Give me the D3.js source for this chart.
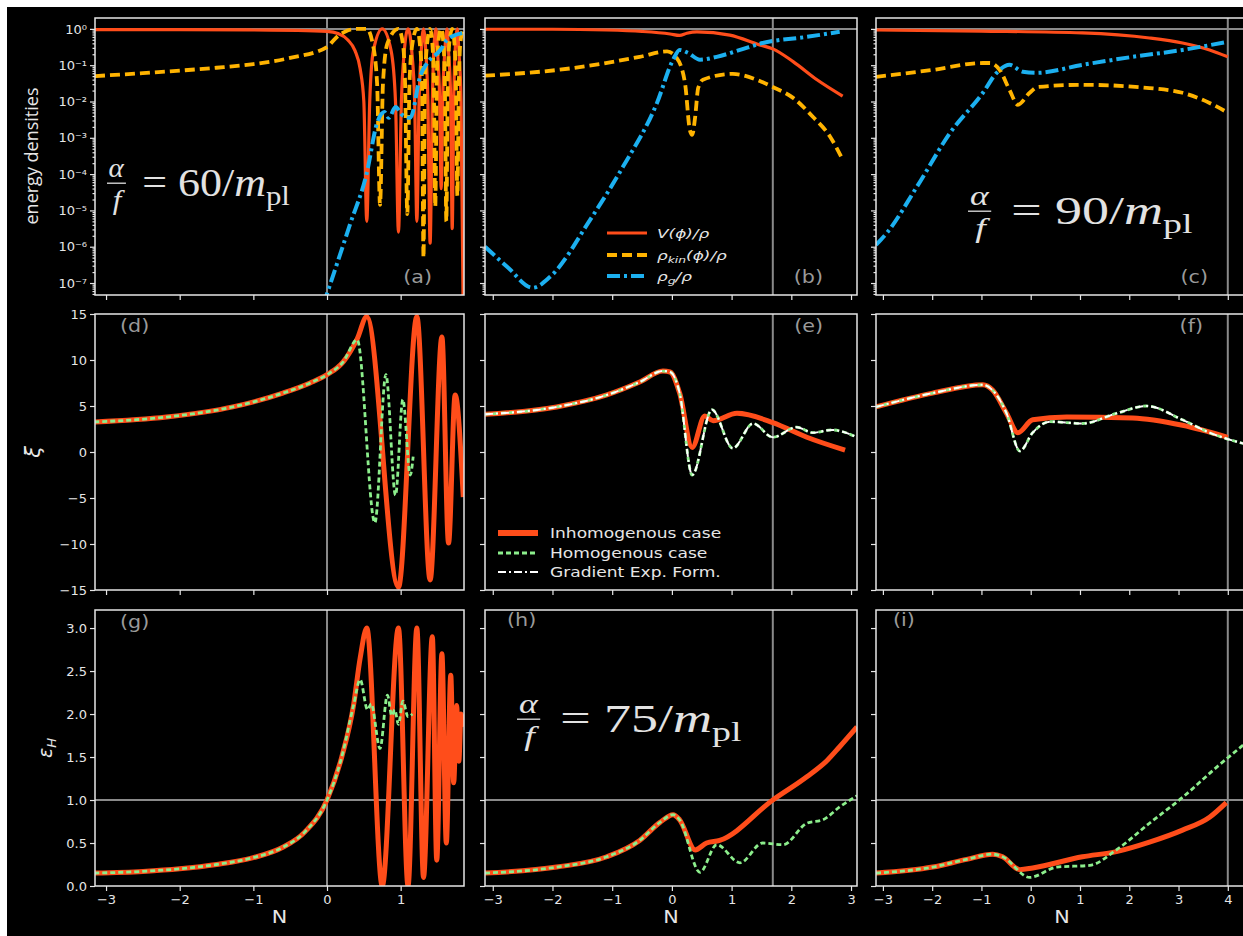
<!DOCTYPE html>
<html>
<head>
<meta charset="utf-8">
<script src="https://cdn.jsdelivr.net/npm/d3@7"></script>
<style>
  body { margin: 0; background: #fff; }
  svg { display: block; }
</style>
</head>
<body>
<svg id="fig" width="1243" height="936"></svg>
<script>
// ---- data (N, value); energy densities stored as log10 exponents ----
const N_TICKS = [-3, -2, -1, 0, 1, 2, 3, 4];
const LOG_TICKS = [0, -1, -2, -3, -4, -5, -6, -7];
const XI_TICKS = [15, 10, 5, 0, -5, -10, -15];
const EPS_TICKS = [0, 0.5, 1, 1.5, 2, 2.5, 3];
const VLINES = [0, 1.69, 4];

const a_V = [[-3.15,-0.02],[-2,-0.02],[-1,-0.03],[-0.4,-0.04],[0,-0.07],[0.15,-0.13],[0.28,-0.3],[0.38,-0.6],[0.45,-1.1],[0.5,-2.0],[0.54,-5.3],[0.58,-2.0],[0.63,-0.6],[0.75,0],[0.87,-0.6],[0.93,-2.0],[0.97,-5.6],[1.01,-2.0],[1.05,-0.6],[1.1,0],[1.15,-0.6],[1.19,-2.0],[1.22,-5.3],[1.25,-2.0],[1.28,-0.6],[1.31,0],[1.34,-0.6],[1.37,-2.0],[1.40,-5.9],[1.43,-2.0],[1.45,-0.6],[1.48,0],[1.5,-0.6],[1.53,-2.0],[1.55,-4.4],[1.57,-2.0],[1.6,-0.6],[1.63,0],[1.65,-0.6],[1.68,-2.0],[1.70,-5.5],[1.72,-2.0],[1.74,-0.6],[1.77,0],[1.79,-0.6],[1.82,-2.0],[1.85,-8]];
const a_kin = [[-3.15,-1.3],[-2.5,-1.22],[-2,-1.15],[-1.5,-1.07],[-1,-0.97],[-0.5,-0.8],[0,-0.5],[0.12,-0.25],[0.25,-0.07],[0.4,0],[0.54,0],[0.62,-0.4],[0.68,-1.5],[0.72,-4.85],[0.76,-1.5],[0.82,-0.4],[0.97,0],[1.03,-0.4],[1.06,-1.5],[1.09,-5.1],[1.12,-1.5],[1.16,-0.4],[1.22,0],[1.26,-0.4],[1.29,-1.5],[1.31,-6.3],[1.33,-1.5],[1.36,-0.4],[1.40,0],[1.43,-0.4],[1.45,-1.5],[1.47,-4.9],[1.49,-1.5],[1.51,-0.4],[1.55,0],[1.58,-0.4],[1.60,-1.5],[1.62,-5.3],[1.64,-1.5],[1.66,-0.4],[1.70,0],[1.73,-0.4],[1.75,-1.5],[1.77,-4.6],[1.79,-1.5],[1.81,-0.4],[1.85,0]];
const a_g = [[-0.05,-7.6],[0.31,-5.4],[0.54,-3.97],[0.68,-2.59],[0.78,-2.29],[0.84,-2.45],[0.93,-2.15],[1.02,-2.37],[1.13,-2.45],[1.27,-1.27],[1.36,-0.94],[1.54,-0.58],[1.63,-0.30],[1.85,-0.11]];

const b_V = [[-3.13,-0.01],[-2,-0.01],[-1.09,-0.03],[-0.5,-0.07],[-0.03,-0.14],[0.13,-0.18],[0.25,-0.12],[0.42,-0.08],[0.97,-0.17],[1.47,-0.44],[1.69,-0.55],[2.03,-0.9],[2.43,-1.4],[2.86,-1.85]];
const b_kin = [[-3.13,-1.29],[-1.66,-1.08],[-0.54,-0.77],[-0.08,-0.62],[0.08,-0.8],[0.22,-1.5],[0.30,-2.78],[0.34,-2.92],[0.39,-2.42],[0.44,-1.63],[0.52,-1.4],[1.02,-1.24],[1.42,-1.4],[1.69,-1.6],[2.03,-1.9],[2.36,-2.42],[2.65,-2.97],[2.86,-3.6]];
const b_g = [[-3.13,-6.0],[-2.76,-6.55],[-2.33,-7.13],[-2.04,-6.83],[-1.37,-5.26],[-0.82,-3.8],[-0.25,-2.04],[0.02,-0.85],[0.13,-0.58],[0.27,-0.66],[0.47,-0.85],[0.75,-0.77],[1.14,-0.58],[1.52,-0.39],[2.26,-0.22],[2.81,-0.08]];

const c_V = [[-3.14,-0.03],[-1,-0.06],[1.05,-0.11],[2.41,-0.25],[3.08,-0.39],[3.63,-0.58],[4.0,-0.77]];
const c_kin = [[-3.14,-1.32],[-1.99,-1.13],[-0.97,-0.94],[-0.83,-0.94],[-0.63,-1.13],[-0.43,-1.68],[-0.26,-2.09],[-0.02,-1.76],[0.14,-1.6],[1.05,-1.54],[2.41,-1.63],[3.08,-1.76],[3.63,-2.04],[4.0,-2.31]];
const c_g = [[-3.14,-5.95],[-2.92,-5.62],[-2.31,-4.35],[-1.64,-2.87],[-0.97,-1.76],[-0.69,-1.21],[-0.43,-0.99],[-0.16,-1.18],[0.12,-1.21],[1.05,-0.99],[2.07,-0.77],[3.08,-0.58],[3.98,-0.36]];

const d_inh = [[-3.16,3.26],[-2.18,3.8],[-1.28,4.9],[-0.6,6.4],[-0.23,7.5],[0,8.4],[0.22,9.8],[0.41,12.3],[0.54,14.7],[0.97,-14.7],[1.22,14.7],[1.40,-13.9],[1.56,12.5],[1.65,-9.9],[1.74,6.2],[1.85,-4.9]];
const d_hom = [[-3.16,3.26],[-2.18,3.8],[-1.28,4.9],[-0.6,6.4],[-0.23,7.5],[0,8.4],[0.22,9.8],[0.41,12.2],[0.65,-7.7],[0.80,8.4],[0.93,-4.7],[1.03,5.7],[1.13,-2.5],[1.17,-0.5]];

const e_inh = [[-3.13,4.1],[-1.93,4.9],[-1.09,6.2],[-0.54,7.6],[-0.15,8.8],[-0.03,8.7],[0.13,6.4],[0.34,0.5],[0.55,3.9],[0.69,3.4],[1.09,4.2],[1.69,3.2],[2.26,1.6],[2.9,0.2]];
const e_hom = [[-3.13,4.1],[-1.93,4.9],[-1.09,6.2],[-0.54,7.6],[-0.15,8.8],[-0.03,8.7],[0.13,6.4],[0.34,-2.5],[0.67,4.6],[1.02,0.4],[1.36,3.1],[1.69,1.6],[2.09,2.7],[2.36,2.1],[2.68,2.4],[3.1,1.6]];

const f_inh = [[-3.14,4.9],[-1.99,6.4],[-0.97,7.3],[-0.77,6.7],[-0.49,4.2],[-0.26,2.1],[0.04,3.5],[0.73,3.8],[2.07,3.7],[3.08,2.9],[4.0,1.6]];
const f_hom = [[-3.14,4.9],[-1.99,6.4],[-0.97,7.3],[-0.77,6.7],[-0.49,4.2],[-0.22,0.1],[0.04,2.1],[0.39,3.3],[1.05,3.1],[1.74,4.2],[2.35,5.0],[3.08,3.5],[3.63,2.1],[4.4,0.8]];

const g_inh = [[-3.16,0.15],[-2.5,0.17],[-2,0.2],[-1.5,0.25],[-1,0.33],[-0.6,0.45],[-0.3,0.63],[0,1.0],[0.2,1.5],[0.36,2.1],[0.45,2.65],[0.54,3.0],[0.75,0.0],[0.97,3.0],[1.1,0.0],[1.22,3.0],[1.31,0.1],[1.43,2.9],[1.49,0.3],[1.56,2.7],[1.62,0.5],[1.68,2.45],[1.72,1.2],[1.76,2.1],[1.79,1.45],[1.82,2.0],[1.85,1.85]];
const g_hom = [[-3.16,0.15],[-2.5,0.17],[-2,0.2],[-1.5,0.25],[-1,0.33],[-0.6,0.45],[-0.3,0.63],[0,1.0],[0.2,1.5],[0.36,2.1],[0.45,2.4],[0.55,2.05],[0.6,2.12],[0.72,1.6],[0.82,2.22],[0.88,1.98],[0.92,2.05],[0.97,1.88],[1.03,2.15],[1.1,1.97],[1.16,2.0]];

const h_inh = [[-3.13,0.15],[-1.93,0.22],[-1.09,0.34],[-0.54,0.53],[-0.2,0.74],[0.02,0.83],[0.13,0.77],[0.39,0.42],[0.58,0.5],[0.8,0.53],[1.69,1.0],[2.26,1.27],[2.6,1.46],[2.81,1.62],[3.1,1.85]];
const h_hom = [[-3.13,0.15],[-1.93,0.22],[-1.09,0.34],[-0.54,0.53],[-0.2,0.74],[0.02,0.83],[0.13,0.77],[0.47,0.16],[0.75,0.48],[1.14,0.27],[1.52,0.5],[1.86,0.48],[2.26,0.73],[2.53,0.77],[2.81,0.92],[3.1,1.05]];

const i_inh = [[-3.14,0.15],[-1.99,0.22],[-1.3,0.31],[-0.77,0.37],[-0.57,0.34],[-0.22,0.19],[0.04,0.21],[1.05,0.34],[1.74,0.4],[2.41,0.51],[3.08,0.65],[3.63,0.8],[3.97,0.97]];
const i_hom = [[-3.14,0.15],[-1.99,0.22],[-1.3,0.31],[-0.77,0.37],[-0.57,0.34],[-0.02,0.1],[0.53,0.22],[1.2,0.24],[1.74,0.42],[2.41,0.73],[3.08,1.03],[3.77,1.38],[4.4,1.68]];

// ---- look ----
const RED = "#ff4d1a", AMBER = "#ffb300", BLUE = "#1cb0f0", GREEN = "#8cee8c";
const REF = "#8a8a8a", FG = "#e6e6e6", LBL = "#9a9a9a";
const STY = {
  V:    { stroke: RED,   w: 3.2 },
  kin:  { stroke: AMBER, w: 3.8, dash: "10,5" },
  g:    { stroke: BLUE,  w: 4,   dash: "13,4,3,4" },
  inh:  { stroke: RED,   w: 5 },
  hom:  { stroke: GREEN, w: 2.8, dash: "5,3" },
  grad: { stroke: "#ffffff", w: 2, dash: "8,3,2,3" }
};

const COLS = [
  { x: 95,  w: 369, dom: [-3.15, 1.86] },
  { x: 485, w: 372, dom: [-3.13, 3.1] },
  { x: 876, w: 372, dom: [-3.14, 4.41] }
];
const ROWS = [{ y: 18, h: 277 }, { y: 314, h: 276 }, { y: 610, h: 276 }];

const svg = d3.select("#fig");
svg.append("rect").attr("x", 7).attr("y", 7).attr("width", 1236).attr("height", 929).attr("fill", "#000");

const SUP = { "-": "⁻", "0": "⁰", "1": "¹", "2": "²", "3": "³", "4": "⁴", "5": "⁵", "6": "⁶", "7": "⁷", "8": "⁸", "9": "⁹" };
const powFmt = v => "10" + String(Math.round(Math.log10(v))).split("").map(ch => SUP[ch]).join("");

function stext(parent, x, y, sx) {
  return parent.append("g").attr("transform", `translate(${x},${y}) scale(${sx},1)`).append("text");
}

function styleAxis(sel) {
  sel.select(".domain").remove();
  sel.selectAll("line").attr("stroke", FG).attr("stroke-width", 1.2);
  sel.selectAll("text").attr("fill", FG).style("font-family", "'DejaVu Sans'").style("font-size", "13px");
}

function makePanel(r, c) {
  const C = COLS[c], R = ROWS[r];
  const g = svg.append("g").attr("transform", `translate(${C.x},${R.y})`);
  const x = d3.scaleLinear().domain(C.dom).range([0, C.w]);
  let y;
  if (r === 0) y = d3.scaleLog().domain([10 ** -7.33, 10 ** 0.3]).range([R.h, 0]);
  else if (r === 1) y = d3.scaleLinear().domain([-15, 15]).range([R.h, 0]);
  else y = d3.scaleLinear().domain([0, 3.21]).range([R.h, 0]);

  const id = `clip${r}${c}`;
  g.append("clipPath").attr("id", id).append("rect").attr("width", C.w).attr("height", R.h);

  // x axis
  const xt = N_TICKS.filter(v => v >= C.dom[0] && v <= C.dom[1]);
  g.append("g").attr("transform", `translate(0,${R.h})`)
    .call(d3.axisBottom(x).tickValues(xt).tickSize(5).tickPadding(4)
      .tickFormat(r === 2 ? d3.format("d") : ""))
    .call(styleAxis);

  // y axis
  if (r === 0) {
    const minor = [];
    LOG_TICKS.concat([-8]).forEach(e => {
      for (let m = 2; m <= 9; m++) {
        const v = m * 10 ** e;
        if (v > y.domain()[0] && v < y.domain()[1]) minor.push(v);
      }
    });
    g.append("g").call(d3.axisLeft(y).tickValues(minor).tickSize(2.5).tickFormat("")).call(styleAxis);
    g.append("g").call(d3.axisLeft(y).tickValues(LOG_TICKS.map(e => 10 ** e)).tickSize(5).tickPadding(3)
      .tickFormat(c === 0 ? powFmt : "")).call(styleAxis);
  } else {
    const vals = r === 1 ? XI_TICKS : EPS_TICKS;
    const fmt = r === 1 ? d3.format("d") : d3.format(".1f");
    g.append("g").call(d3.axisLeft(y).tickValues(vals).tickSize(5).tickPadding(3)
      .tickFormat(c === 0 ? fmt : "")).call(styleAxis);
  }

  // reference lines
  const ref = g.append("g").attr("clip-path", `url(#${id})`);
  ref.append("line").attr("x1", x(VLINES[c])).attr("x2", x(VLINES[c]))
    .attr("y1", 0).attr("y2", R.h).attr("stroke", REF).attr("stroke-width", 2);
  if (r !== 1) {
    ref.append("line").attr("x1", 0).attr("x2", C.w).attr("y1", y(1)).attr("y2", y(1))
      .attr("stroke", REF).attr("stroke-width", 2);
  }

  const plot = g.append("g").attr("clip-path", `url(#${id})`);
  return { g, x, y, plot, C, R, r, c };
}

function drawSeries(p, data, key) {
  const s = STY[key];
  const line = d3.line()
    .x(d => p.x(d[0]))
    .y(d => p.y(p.r === 0 ? 10 ** d[1] : d[1]))
    .curve(d3.curveMonotoneX);
  p.plot.append("path").datum(data).attr("d", line)
    .attr("fill", "none").attr("stroke", s.stroke).attr("stroke-width", s.w)
    .attr("stroke-dasharray", s.dash || null)
    .attr("stroke-linejoin", "round");
}

function frame(p) {
  p.g.append("rect").attr("width", p.C.w).attr("height", p.R.h)
    .attr("fill", "none").attr("stroke", FG).attr("stroke-width", 1.5);
}

function panelLabel(p, txt, x, y, anchor) {
  stext(p.g, x, y, 1.15).attr("text-anchor", anchor || "start")
    .attr("fill", LBL).style("font-family", "'DejaVu Sans'").style("font-size", "18px").text(txt);
}

// α/f = num/m_pl, drawn as a small stacked fraction
function annotate(x0, base, sx, num) {
  const fs = 40;
  const a = svg.append("g").attr("transform", `translate(${x0},${base}) scale(${sx},1)`)
    .attr("fill", "#e2e2e2").style("font-family", "'Liberation Serif'");
  a.append("text").attr("x", 0.21 * fs).attr("y", -0.63 * fs).attr("text-anchor", "middle")
    .style("font-size", (0.66 * fs) + "px").style("font-style", "italic").text("α");
  a.append("line").attr("x1", 0).attr("x2", 0.43 * fs).attr("y1", -0.47 * fs).attr("y2", -0.47 * fs)
    .attr("stroke", "#e2e2e2").attr("stroke-width", 1.3);
  a.append("text").attr("x", 0.23 * fs).attr("y", 0.18 * fs).attr("text-anchor", "middle")
    .style("font-size", (0.7 * fs) + "px").style("font-style", "italic").text("f");
  const t = a.append("text").attr("x", 0.8 * fs).attr("y", -0.15 * fs).style("font-size", fs + "px");
  t.append("tspan").text("= " + num + "/");
  t.append("tspan").style("font-style", "italic").text("m");
  t.append("tspan").attr("dy", 0.22 * fs).style("font-size", (0.7 * fs) + "px").text("pl");
}

// ---- panels ----
const P = {};
for (let r = 0; r < 3; r++) for (let c = 0; c < 3; c++) P[`${r}${c}`] = makePanel(r, c);

drawSeries(P["00"], a_V, "V");   drawSeries(P["00"], a_kin, "kin"); drawSeries(P["00"], a_g, "g");
drawSeries(P["01"], b_V, "V");   drawSeries(P["01"], b_kin, "kin"); drawSeries(P["01"], b_g, "g");
drawSeries(P["02"], c_V, "V");   drawSeries(P["02"], c_kin, "kin"); drawSeries(P["02"], c_g, "g");

drawSeries(P["10"], d_inh, "inh"); drawSeries(P["10"], d_hom, "hom");
drawSeries(P["11"], e_inh, "inh"); drawSeries(P["11"], e_hom, "hom"); drawSeries(P["11"], e_hom, "grad");
drawSeries(P["12"], f_inh, "inh"); drawSeries(P["12"], f_hom, "hom"); drawSeries(P["12"], f_hom, "grad");

drawSeries(P["20"], g_inh, "inh"); drawSeries(P["20"], g_hom, "hom");
drawSeries(P["21"], h_inh, "inh"); drawSeries(P["21"], h_hom, "hom");
drawSeries(P["22"], i_inh, "inh"); drawSeries(P["22"], i_hom, "hom");

Object.values(P).forEach(frame);

// panel letters
panelLabel(P["00"], "(a)", 337, 265, "end");
panelLabel(P["01"], "(b)", 338, 265, "end");
panelLabel(P["02"], "(c)", 332, 265, "end");
panelLabel(P["10"], "(d)", 25, 18);
panelLabel(P["11"], "(e)", 338, 18, "end");
panelLabel(P["12"], "(f)", 327, 18, "end");
panelLabel(P["20"], "(g)", 25, 18);
panelLabel(P["21"], "(h)", 22, 16);
panelLabel(P["22"], "(i)", 17, 16);

// axis titles
const ttl = svg.append("g").attr("fill", FG);
ttl.append("text").attr("transform", "translate(38,156) rotate(-90)").attr("text-anchor", "middle")
  .style("font-family", "'Open Sans'").style("font-size", "18px").text("energy densities");
ttl.append("text").attr("transform", "translate(40,452) rotate(-90)").attr("text-anchor", "middle")
  .style("font-family", "'DejaVu Sans'").style("font-style", "italic").style("font-size", "21px").text("ξ");
const eps = ttl.append("text").attr("transform", "translate(52,748) rotate(-90)").attr("text-anchor", "middle")
  .style("font-family", "'DejaVu Sans'").style("font-style", "italic").style("font-size", "19px");
eps.append("tspan").text("ε");
eps.append("tspan").attr("dy", 4).style("font-size", "13px").text("H");
COLS.forEach(C => {
  stext(svg, C.x + C.w / 2, 923, 1.15).attr("text-anchor", "middle").attr("fill", FG)
    .style("font-family", "'DejaVu Sans'").style("font-size", "18px").text("N");
});

// legend (b)
{
  const g = svg.append("g");
  const rows = [["V", 233], ["kin", 255], ["g", 276]];
  rows.forEach(([k, yy]) => {
    const s = STY[k];
    g.append("line").attr("x1", 607).attr("x2", 647).attr("y1", yy).attr("y2", yy)
      .attr("stroke", s.stroke).attr("stroke-width", s.w).attr("stroke-dasharray", s.dash || null);
  });
  const mk = yy => stext(g, 657, yy + 5, 1.3).attr("fill", FG)
    .style("font-family", "'DejaVu Sans'").style("font-style", "italic").style("font-size", "13px");
  mk(233).text("V(ϕ)/ρ");
  const t2 = mk(255);
  t2.append("tspan").text("ρ");
  t2.append("tspan").attr("dy", 3).style("font-size", "9.5px").text("kin");
  t2.append("tspan").attr("dy", -3).text("(ϕ)/ρ");
  const t3 = mk(276);
  t3.append("tspan").text("ρ");
  t3.append("tspan").attr("dy", 3).style("font-size", "9.5px").text("g");
  t3.append("tspan").attr("dy", -3).text("/ρ");
}

// legend (e)
{
  const g = svg.append("g");
  const rows = [["inh", 533, "Inhomogenous case"], ["hom", 553, "Homogenous case"], ["grad", 572, "Gradient Exp. Form."]];
  rows.forEach(([k, yy, txt]) => {
    const s = STY[k];
    g.append("line").attr("x1", 498).attr("x2", 538).attr("y1", yy).attr("y2", yy)
      .attr("stroke", s.stroke).attr("stroke-width", k === "inh" ? 6 : s.w).attr("stroke-dasharray", s.dash || null);
    stext(g, 550, yy + 5, 1.22).attr("fill", FG)
      .style("font-family", "'DejaVu Sans'").style("font-size", "14px").text(txt);
  });
}

// annotations
annotate(107, 202, 1.1, "60");
annotate(968, 230, 1.35, "90");
annotate(517, 738, 1.35, "75");
</script>
</body>
</html>
